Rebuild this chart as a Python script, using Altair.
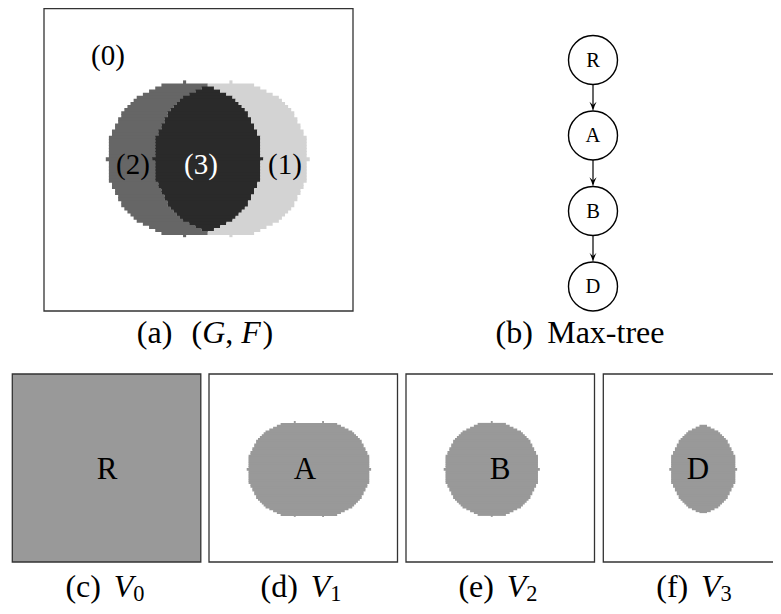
import altair as alt
import pandas as pd

# ---------------- data ----------------
GRID_N = 100                       # image is a 100 x 100 pixel grid
RADIUS = 25                        # both discs, in grid pixels
LEFT_CENTER = (45, 50)             # disc giving level 2
RIGHT_CENTER = (60, 50)            # disc giving level 1
LEVEL_COLORS = {1: "#d3d3d3", 2: "#666666", 3: "#2a2a2a"}
SUB_GRAY = "#999999"

REGION_LABELS = ["(0)", "(1)", "(2)", "(3)"]
REGION_LABEL_X = [108, 285, 133, 201]
REGION_LABEL_Y = [57, 166, 166, 166]
REGION_LABEL_COLOR = ["black", "black", "black", "white"]

TREE_NODES = ["R", "A", "B", "D"]
TREE_Y = [60, 135.5, 211, 286.5]

SUB_LABELS = ["R", "A", "B", "D"]
SUB_LABEL_X = [107, 305, 500, 698]
SUB_CAPTION_TAGS = ["(c)", "(d)", "(e)", "(f)"]
SUB_CAPTION_IDX = ["0", "1", "2", "3"]
SUB_CAPTION_X = [105, 301, 498, 694]

# ---------------- layout ----------------
FONT = "Liberation Serif"
PANEL_A = (44, 353, 3.5, 311)          # x0, x1, y0, y1
VISIBLE_TOP = 8.7                      # page margin: nothing can be drawn above y = 8
SUB_LEFTS = [12.3, 209, 406, 603.3]
SUB_W = 188.5
SUB_TOP, SUB_BOTTOM = 374, 562
TREE_X = 593
NODE_R = 24.5
CAP_FS = 32
CAP_BASE_TOP = 343
CAP_BASE_BOTTOM = 596.5
ROW_OVERLAP = 0.9


def level(i, j):
    inl = (i - LEFT_CENTER[0]) ** 2 + (j - LEFT_CENTER[1]) ** 2 <= RADIUS ** 2
    inr = (i - RIGHT_CENTER[0]) ** 2 + (j - RIGHT_CENTER[1]) ** 2 <= RADIUS ** 2
    return int(inr) + 2 * int(inl)


def runs(fn):
    for j in range(GRID_N):
        i = 0
        while i < GRID_N:
            v = fn(i, j)
            if v == 0:
                i += 1
                continue
            k = i
            while k + 1 < GRID_N and fn(k + 1, j) == v:
                k += 1
            yield j, i, k, v
            i = k + 1


def has_below(fn, j, i, k, v):
    return j + 1 < GRID_N and any(fn(c, j + 1) != 0 for c in range(i, k + 1))


cells = []
x0, x1, y0, y1 = PANEL_A
cw, ch = (x1 - x0) / GRID_N, (y1 - y0) / GRID_N
for j, i, k, v in runs(level):
    ov = ROW_OVERLAP if has_below(level, j, i, k, v) else 0
    cells.append(dict(x=x0 + i * cw, x2=x0 + (k + 1) * cw, y=y0 + j * ch,
                      y2=y0 + (j + 1) * ch + ov, fill=LEVEL_COLORS[v]))

sch = (SUB_BOTTOM - SUB_TOP) / GRID_N
scw = SUB_W / GRID_N
for p in (1, 2, 3):
    left = SUB_LEFTS[p]
    fn = (lambda a, b, p=p: 1 if level(a, b) >= p else 0)
    for j, i, k, v in runs(fn):
        ov = ROW_OVERLAP if has_below(fn, j, i, k, v) else 0
        cells.append(dict(x=left + i * scw, x2=left + (k + 1) * scw, y=SUB_TOP + j * sch,
                          y2=SUB_TOP + (j + 1) * sch + ov, fill=SUB_GRAY))
cells_df = pd.DataFrame(cells)

boxes = [dict(x=x0, x2=x1, y=max(y0, VISIBLE_TOP), y2=y1, fill="white")]
for p, left in enumerate(SUB_LEFTS):
    boxes.append(dict(x=left, x2=left + SUB_W, y=SUB_TOP, y2=SUB_BOTTOM,
                      fill=SUB_GRAY if p == 0 else "white"))
boxes_df = pd.DataFrame(boxes)

# ---------------- texts ----------------
W_N = {"(": 333, ")": 333, "a": 444, "b": 500, "c": 444, "d": 500, "e": 444, "f": 333,
       " ": 250, ",": 250, "M": 889, "x": 500, "-": 333, "t": 278, "r": 333,
       "0": 500, "1": 500, "2": 500, "3": 500}
W_I = {"G": 722, "F": 611, "V": 611}


def width(s, italic=False):
    tbl = W_I if italic else W_N
    return sum(tbl.get(c, 500) for c in s) / 1000.0


normal_center = []
normal_left = []
italic_left = []

for t, x, y, c in zip(REGION_LABELS, REGION_LABEL_X, REGION_LABEL_Y, REGION_LABEL_COLOR):
    normal_center.append(dict(x=x, y=y + 7.5, text=t, size=29, color=c))
for t, y in zip(TREE_NODES, TREE_Y):
    normal_center.append(dict(x=TREE_X, y=y + 6.8, text=t, size=20.5, color="black"))
for t, x in zip(SUB_LABELS, SUB_LABEL_X):
    normal_center.append(dict(x=x, y=479.3, text=t, size=31, color="black"))


def place(pieces, cx, base):
    # pieces: (text, italic, size_factor, dy_em, dx_em_before)
    total = 0.0
    for t, it, sf, dy, dx in pieces:
        total += dx + width(t, it) * sf
    x = cx - total * CAP_FS / 2
    for t, it, sf, dy, dx in pieces:
        x += dx * CAP_FS
        row = dict(x=x, y=base + dy * CAP_FS, text=t, size=CAP_FS * sf, color="black")
        (italic_left if it else normal_left).append(row)
        x += width(t, it) * sf * CAP_FS


place([("(a)", False, 1, 0, 0), ("(", False, 1, 0, 0.6), ("G", True, 1, 0, 0),
       (",", False, 1, 0, 0), ("F", True, 1, 0, 0.25), (")", False, 1, 0, 0.05)],
      205, CAP_BASE_TOP)
place([("(b)", False, 1, 0, 0), ("Max-tree", False, 1, 0, 0.45)], 580, CAP_BASE_TOP)
for tag, idx, cx in zip(SUB_CAPTION_TAGS, SUB_CAPTION_IDX, SUB_CAPTION_X):
    place([(tag, False, 1, 0, 0), ("V", True, 1, 0, 0.4), (idx, False, 0.7, 0.14, 0.0)],
          cx, CAP_BASE_BOTTOM)

# ---------------- tree ----------------
nodes_df = pd.DataFrame(dict(x=[TREE_X] * 4, y=TREE_Y))
edges = []
heads = []
for a, b in zip(TREE_Y[:-1], TREE_Y[1:]):
    tip = b - NODE_R
    edges.append(dict(x=TREE_X, y=a + NODE_R, y2=tip - 3))
    heads.append(dict(x=TREE_X, y=tip - 4.5))
edges_df = pd.DataFrame(edges)
heads_df = pd.DataFrame(heads)

# ---------------- chart ----------------
X = alt.X("x:Q", scale=alt.Scale(domain=[8, 773], nice=False, zero=False), axis=None)
Y = alt.Y("y:Q", scale=alt.Scale(domain=[8, 606], reverse=True, nice=False, zero=False), axis=None)

box_fill = alt.Chart(boxes_df).mark_rect(strokeWidth=0).encode(
    x=X, x2="x2:Q", y=Y, y2="y2:Q", color=alt.Color("fill:N", scale=None))
cell_layer = alt.Chart(cells_df).mark_rect(strokeWidth=0).encode(
    x=X, x2="x2:Q", y=Y, y2="y2:Q", color=alt.Color("fill:N", scale=None))
box_border = alt.Chart(boxes_df).mark_rect(fillOpacity=0, stroke="#333333", strokeWidth=1.3).encode(
    x=X, x2="x2:Q", y=Y, y2="y2:Q")

edge_layer = alt.Chart(edges_df).mark_rule(color="black", strokeWidth=1.2).encode(
    x=X, y=Y, y2="y2:Q")
ARROW = "M0,1 Q-0.25,-0.1 -0.75,-1 Q-0.1,-0.35 0,-0.3 Q0.1,-0.35 0.75,-1 Q0.25,-0.1 0,1 Z"
head_layer = alt.Chart(heads_df).mark_point(shape=ARROW, size=90, filled=True, color="black",
                                            opacity=1, strokeWidth=0).encode(x=X, y=Y)
node_layer = alt.Chart(nodes_df).mark_point(shape="circle", size=(2 * NODE_R) ** 2, fill="white",
                                            stroke="black", strokeWidth=1.4, opacity=1,
                                            fillOpacity=1).encode(x=X, y=Y)


def text_layer(rows, align, style):
    return alt.Chart(pd.DataFrame(rows)).mark_text(
        align=align, baseline="alphabetic", font=FONT, fontStyle=style).encode(
        x=X, y=Y, text="text:N", size=alt.Size("size:Q", scale=None),
        color=alt.Color("color:N", scale=None))


chart = alt.layer(
    box_fill, cell_layer, box_border, edge_layer, head_layer, node_layer,
    text_layer(normal_center, "center", "normal"),
    text_layer(normal_left, "left", "normal"),
    text_layer(italic_left, "left", "italic"),
).properties(
    width=765, height=598, padding=0, autosize=alt.AutoSizeParams(type="none"),
    background="white",
).configure_view(stroke=None)

chart.save("out.html", embed_options={"renderer": "svg", "actions": False})
